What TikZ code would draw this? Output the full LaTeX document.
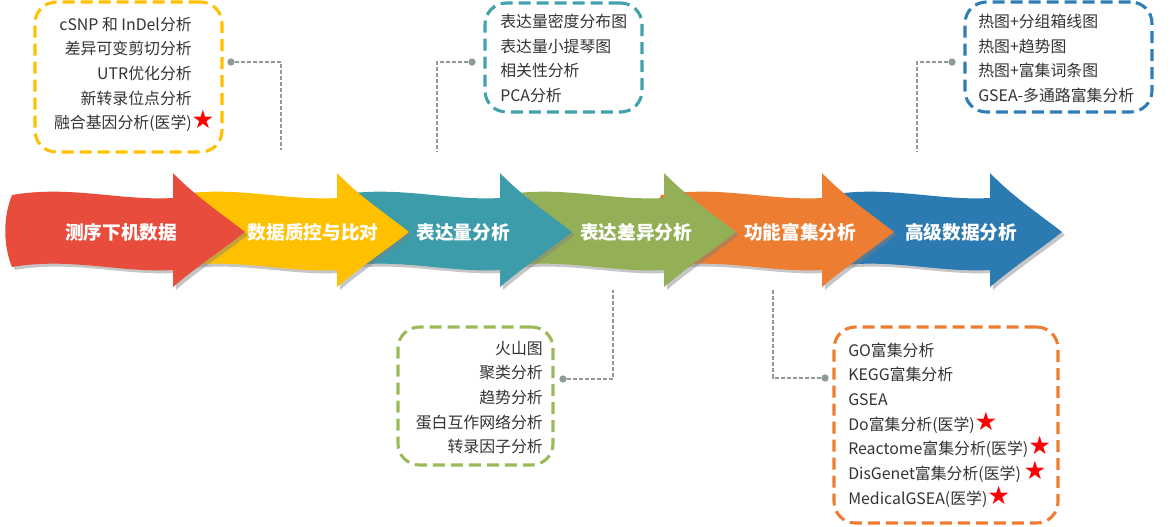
\documentclass[tikz,border=0pt]{standalone}
\usepackage{fontspec}
\setmainfont{Noto Sans CJK SC}
\newfontfamily\starfont{DejaVu Sans}
\usepackage{tikz}
\usetikzlibrary{shadows}
\definecolor{stepred}{HTML}{E74C3C}
\definecolor{stepyellow}{HTML}{FFC000}
\definecolor{stepteal}{HTML}{3D9CA9}
\definecolor{stepgreen}{HTML}{93B056}
\definecolor{steporange}{HTML}{ED7D31}
\definecolor{stepblue}{HTML}{2B7AB2}
\definecolor{boxteal}{HTML}{42A1AD}
\definecolor{boxgreen}{HTML}{9BBB59}
\definecolor{boxblue}{HTML}{2E7DB5}
\definecolor{inkgray}{HTML}{333333}
\definecolor{leadgray}{HTML}{8E9A9A}
\newcommand{\redstar}{{\starfont\fontsize{19}{19}\selectfont\textcolor{red}{★}}}

\begin{document}
\begin{tikzpicture}[x=0.75pt, y=-0.75pt,
  flowarrow/.style={fill=#1, drop shadow={shadow xshift=2.2pt, shadow yshift=-2.2pt, opacity=0.45}},
  steptext/.style={text=white, font=\bfseries\fontsize{14}{14}\selectfont},
  notebox/.style={draw=#1, line width=2.3pt, dash pattern=on 9pt off 4.5pt, rounded corners=16pt},
  listtext/.style={text=inkgray, font=\fontsize{11.9}{18.5}\selectfont, inner sep=0pt},
  dotmark/.style={circle, fill=leadgray, inner sep=0pt, minimum size=5.5pt},
  leader/.style={leadgray, line width=0.8pt, dash pattern=on 3pt off 1.5pt}]
  \useasboundingbox (0,0) rectangle (1170,526);
  \foreach \dx/\col in {817/stepblue, 649/steporange, 491/stepgreen, 327/stepteal, 164/stepyellow, 0/stepred}
    \path[flowarrow=\col, shift={(\dx,0)}] (12,195) .. controls (70,185) and (120,201) .. (173,198) -- (173,173)
      .. controls (195,196) and (222,214) .. (245,232) .. controls (222,250) and (195,268) .. (173,287) -- (173,270)
      .. controls (120,273) and (70,257) .. (12,267) .. controls (3,245) and (3,217) .. cycle;
  \foreach \n/\x/\t in {s1/121/测序下机数据, s2/313/数据质控与比对, s3/463/表达量分析, s4/636/表达差异分析, s5/800/功能富集分析, s6/961/高级数据分析}
    \node[steptext] (\n) at (\x,232) {\t};

  \node[notebox=stepyellow, minimum width=140.25pt, minimum height=112.5pt] (b1) at (128.5,77) {};
  \node[listtext, anchor=east, align=right] (l1) at (192,74.5) {cSNP 和 InDel分析\\差异可变剪切分析\\UTR优化分析\\新转录位点分析\\融合基因分析(医学)\rlap{\redstar}};
  \node[notebox=boxteal, minimum width=117.75pt, minimum height=81.75pt] (b2) at (563.5,57.5) {};
  \node[listtext, anchor=west, align=left] (l2) at (500,58.5) {表达量密度分布图\\表达量小提琴图\\相关性分析\\PCA分析};
  \node[notebox=boxblue, minimum width=140.25pt, minimum height=82.5pt] (b3) at (1058.5,57) {};
  \node[listtext, anchor=west, align=left] (l3) at (978,58.5) {热图+分组箱线图\\热图+趋势图\\热图+富集词条图\\GSEA-多通路富集分析};
  \node[notebox=boxgreen, minimum width=116.25pt, minimum height=103.5pt] (b4) at (475.5,396) {};
  \node[listtext, anchor=east, align=right] (l4) at (543,397.5) {火山图\\聚类分析\\趋势分析\\蛋白互作网络分析\\转录因子分析};
  \node[notebox=steporange, minimum width=168pt, minimum height=147pt] (b5) at (946,425) {};
  \node[listtext, anchor=west, align=left] (l5) at (848,425) {GO富集分析\\KEGG富集分析\\GSEA\\Do富集分析(医学)\redstar\\Reactome富集分析(医学)\redstar\\DisGenet富集分析(医学)\,\redstar\\MedicalGSEA(医学)\redstar};

  \foreach \n/\x/\y in {1/281/150, 2/437/152, 3/917/151, 4/613/290, 5/773/290}
    \coordinate (e\n) at (\x,\y);
  \foreach \n/\x/\y in {1/231/62, 2/472/62, 3/952/62, 4/563/379, 5/825/378} {
    \node[dotmark] (d\n) at (\x,\y) {};
    \draw[leader] (d\n) -| (e\n);}
\end{tikzpicture}
\end{document}
